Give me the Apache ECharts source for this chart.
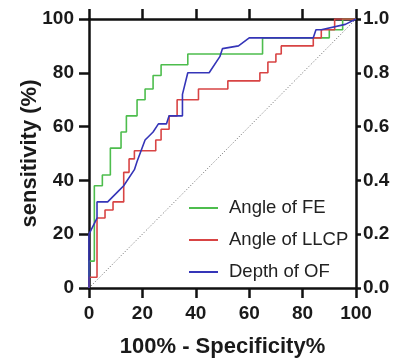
<!DOCTYPE html>
<html>
<head>
<meta charset="utf-8">
<script src="https://cdn.jsdelivr.net/npm/echarts@6/dist/echarts.min.js"></script>
<style>
  html, body { margin: 0; padding: 0; background: #fff; }
  #main { width: 402px; height: 360px; }
</style>
</head>
<body>
<div id="main"></div>
<script>
// ROC curves: 100% - specificity (x) vs sensitivity (y)
var feX = [0, 0, 2, 2, 5, 5, 8, 8, 12, 12, 14, 14, 18, 18, 21, 21, 24, 24, 27, 27, 37, 37, 65, 65, 90, 90, 95, 95, 100];
var feY = [0, 10, 10, 38, 38, 42, 42, 52, 52, 58, 58, 64, 64, 70, 70, 74, 74, 79, 79, 83, 83, 87, 87, 93, 93, 96, 96, 100, 100];

var llcpX = [0, 0, 3, 3, 6, 6, 9, 9, 13, 13, 15, 15, 17, 17, 25, 25, 27, 27, 30, 30, 33, 33, 41, 41, 52, 52, 64, 64, 67, 67, 70, 70, 72, 72, 84, 84, 87, 87, 92, 92, 100];
var llcpY = [0, 4, 4, 26, 26, 29, 29, 32, 32, 43, 43, 48, 48, 51, 51, 55, 55, 59, 59, 64, 64, 70, 70, 74, 74, 77, 77, 80, 80, 84, 84, 87, 87, 90, 90, 93, 93, 96, 96, 100, 100];

var ofX = [0, 0, 3, 3, 7, 11, 13, 17, 18, 21, 24, 26, 29, 30, 35, 35, 37, 45, 49, 50, 56, 60, 84, 85, 87, 96, 100];
var ofY = [0, 20, 26, 32, 32, 36, 38, 44, 47, 55, 58, 61, 61, 64, 64, 72, 80, 80, 86, 89, 90, 93, 93, 96, 96, 98, 100];

var seriesNames = ['Angle of FE', 'Angle of LLCP', 'Depth of OF'];

function pairs(xs, ys) {
  var out = [];
  for (var i = 0; i < xs.length; i++) out.push([xs[i], ys[i]]);
  return out;
}

var myChart = echarts.init(document.getElementById('main'));

var axisFont = { fontFamily: 'Liberation Sans', fontWeight: 'bold', fontSize: 19, color: '#1a1a1a' };
var nameFont = { fontFamily: 'Liberation Sans', fontWeight: 'bold', fontSize: 22, color: '#1a1a1a' };
var axisLine = { show: true, onZero: false, lineStyle: { color: '#111', width: 2.5 } };

var option = {
  backgroundColor: '#fff',
  animation: false,
  grid: { left: 89, right: 46, top: 19, bottom: 72, outerBoundsMode: 'none' },
  legend: {
    orient: 'vertical',
    left: 184,
    top: 193,
    itemWidth: 29,
    itemHeight: 2,
    itemGap: 12,
    icon: 'rect',
    data: seriesNames,
    textStyle: { fontFamily: 'Liberation Sans', fontSize: 18.5, color: '#222', lineHeight: 20, padding: [0, 0, 0, 6] }
  },
  xAxis: [
    {
      type: 'value', position: 'bottom', min: 0, max: 100, interval: 20,
      axisLine: axisLine,
      axisTick: { show: true, inside: false, length: 10, lineStyle: { color: '#111', width: 2.5 } },
      axisLabel: Object.assign({ margin: 16 }, axisFont),
      splitLine: { show: false },
      name: '100% - Specificity%',
      nameLocation: 'middle',
      nameGap: 48,
      nameTextStyle: nameFont
    },
    {
      type: 'value', position: 'top', min: 0, max: 100, interval: 20,
      axisLine: axisLine,
      axisTick: { show: true, inside: false, length: 10, lineStyle: { color: '#111', width: 2.5 } },
      axisLabel: { show: false },
      splitLine: { show: false }
    }
  ],
  yAxis: [
    {
      type: 'value', position: 'left', min: 0, max: 100, interval: 20,
      axisLine: axisLine,
      axisTick: { show: true, inside: false, length: 10, lineStyle: { color: '#111', width: 2.5 } },
      axisLabel: Object.assign({ margin: 15 }, axisFont),
      splitLine: { show: false },
      name: 'sensitivity (%)',
      nameLocation: 'middle',
      nameGap: 48,
      nameMoveOverlap: false,
      nameTextStyle: nameFont
    },
    {
      type: 'value', position: 'right', min: 0, max: 1, interval: 0.2,
      axisLine: axisLine,
      axisTick: { show: true, inside: false, length: 5, lineStyle: { color: '#111', width: 2.5 } },
      axisLabel: Object.assign({ margin: 7, formatter: function (v) { return v.toFixed(1); } }, axisFont),
      splitLine: { show: false }
    }
  ],
  series: [
    {
      name: 'reference', type: 'line', symbol: 'none', silent: true,
      data: [[0, 0], [100, 100]],
      lineStyle: { color: '#666', width: 1, type: [1, 2] },
      z: 1
    },
    {
      name: seriesNames[0], type: 'line', symbol: 'none',
      data: pairs(feX, feY),
      itemStyle: { color: '#4dbd4d' },
      lineStyle: { color: '#4dbd4d', width: 1.6 }
    },
    {
      name: seriesNames[1], type: 'line', symbol: 'none',
      data: pairs(llcpX, llcpY),
      itemStyle: { color: '#d84444' },
      lineStyle: { color: '#d84444', width: 1.6 }
    },
    {
      name: seriesNames[2], type: 'line', symbol: 'none',
      data: pairs(ofX, ofY),
      itemStyle: { color: '#3535b8' },
      lineStyle: { color: '#3535b8', width: 1.6 }
    }
  ]
};

myChart.setOption(option);
</script>
</body>
</html>
